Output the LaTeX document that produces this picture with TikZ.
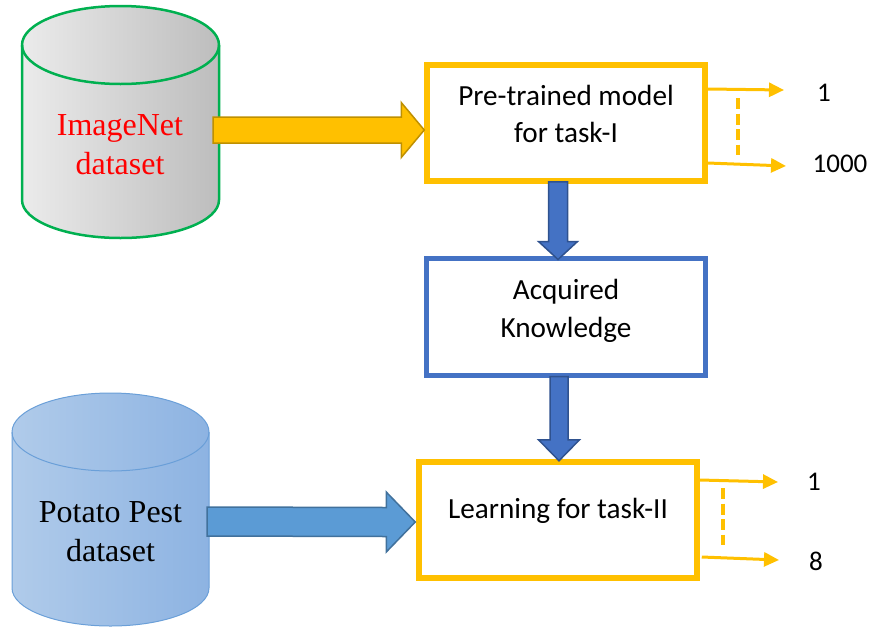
\documentclass[tikz,border=0pt]{standalone}
\usepackage{fontspec}
\setmainfont{Liberation Serif}
\newfontfamily\calibri{Carlito}
\usetikzlibrary{calc,arrows.meta}
\definecolor{gold}{HTML}{FFC000}
\definecolor{golddark}{HTML}{BF9000}
\definecolor{bluebox}{HTML}{4472C4}
\definecolor{bluedark}{HTML}{2F528F}
\definecolor{lightblue}{HTML}{5B9BD5}
\definecolor{lightbluedark}{HTML}{41719C}
\definecolor{greenline}{HTML}{00B050}
\definecolor{graylight}{HTML}{EBEBEB}
\definecolor{graydark}{HTML}{BDBDBD}
\definecolor{dbbluelight}{HTML}{B0CBEA}
\definecolor{dbbluedark}{HTML}{8DB3E2}
\definecolor{dbblueline}{HTML}{6A9FD8}
% horizontal block arrow: #1 start, #2 tip, #3 shaft half, #4 head half, #5 head length
\newcommand\hblockpath[5]{($(#1)+(0,-#3)$) -- ($(#2)+(-#5,-#3)$) -- ($(#2)+(-#5,-#4)$) -- (#2) -- ($(#2)+(-#5,#4)$) -- ($(#2)+(-#5,#3)$) -- ($(#1)+(0,#3)$) -- cycle}
% downward block arrow
\newcommand\vblockpath[5]{($(#1)+(-#3,0)$) -- ($(#2)+(-#3,-#5)$) -- ($(#2)+(-#4,-#5)$) -- (#2) -- ($(#2)+(#4,-#5)$) -- ($(#2)+(#3,-#5)$) -- ($(#1)+(#3,0)$) -- cycle}
\begin{document}
\begin{tikzpicture}[x=1pt,y=-1pt,
  goldbox/.style={draw=gold, line width=5.5pt, fill=white, minimum width=278pt, minimum height=116pt, inner sep=0pt},
  bluebox/.style={draw=bluebox, line width=5pt, fill=white, minimum width=279pt, minimum height=117pt, inner sep=0pt},
  boxtext/.style={font=\calibri\fontsize{29.2}{37}\selectfont, align=center, inner sep=0pt},
  dbtext/.style={font=\fontsize{32}{39.5}\selectfont, align=center, inner sep=0pt},
  numlabel/.style={font=\calibri\fontsize{27}{30}\selectfont, anchor=base, inner sep=0pt},
  outarr/.style={draw=gold, line width=3pt, -{Triangle[length=15pt,width=14pt]}},
  dashline/.style={draw=gold, line width=4pt, dash pattern=on 11pt off 4.5pt},
  goldarrow/.style={fill=gold, draw=golddark, line width=1.5pt, line join=miter},
  bluearrow/.style={fill=bluebox, draw=bluedark, line width=1.5pt, line join=miter},
  ltbluearrow/.style={fill=lightblue, draw=lightbluedark, line width=1.5pt, line join=miter}]
\useasboundingbox (0,0) rectangle (869,627);

% ImageNet cylinder
\shade[left color=graylight, right color=graydark]
  (22,45) -- (22,200) arc[start angle=180,end angle=0,x radius=98.5,y radius=38]
  -- (219,45) arc[start angle=0,end angle=-180,x radius=98.5,y radius=39] -- cycle;
\draw[greenline, line width=2.5pt]
  (22,45) -- (22,200) arc[start angle=180,end angle=0,x radius=98.5,y radius=38]
  -- (219,45) arc[start angle=0,end angle=-180,x radius=98.5,y radius=39] -- cycle;
\draw[greenline, line width=2.5pt] (22,45) arc[start angle=180,end angle=0,x radius=98.5,y radius=39];
\node[dbtext, text=red] (db1) at (120,144.5) {ImageNet\\dataset};

% Potato Pest cylinder
\shade[left color=dbbluelight, right color=dbbluedark]
  (12,432) -- (12,588) arc[start angle=180,end angle=0,x radius=98.5,y radius=38]
  -- (209,432) arc[start angle=0,end angle=-180,x radius=98.5,y radius=39] -- cycle;
\draw[dbblueline, line width=1pt]
  (12,432) -- (12,588) arc[start angle=180,end angle=0,x radius=98.5,y radius=38]
  -- (209,432) arc[start angle=0,end angle=-180,x radius=98.5,y radius=39] -- cycle;
\draw[dbblueline, line width=1pt] (12,432) arc[start angle=180,end angle=0,x radius=98.5,y radius=39];
\node[dbtext] (db2) at (110.5,531.5) {Potato Pest\\dataset};

% boxes
\node[goldbox] (m1) at (566,123) {};
\node[boxtext] (m1t) at (566,113.5) {Pre-trained model\\for task-I};
\node[bluebox] (kn) at (565.5,316.5) {};
\node[boxtext, font=\calibri\fontsize{29.2}{38}\selectfont] (knt) at (566,311) {Acquired\\Knowledge};
\node[goldbox] (m2) at (558,520) {};
\node[boxtext] (m2t) at (558,511) {Learning for task-II};

% block arrows
\coordinate (a1s) at (213,130);
\coordinate (a1t) at ($(m1.west)+(0,7)$);
\draw[goldarrow] \hblockpath{a1s}{a1t}{13}{27.5}{23};

\coordinate (a2s) at ($(m1.south)+(-8,-2)$);
\coordinate (a2t) at ($(kn.north)+(-7.5,4)$);
\draw[bluearrow] \vblockpath{a2s}{a2t}{9.5}{19.5}{18};

\coordinate (a3s) at ($(kn.south)+(-6.5,-1)$);
\coordinate (a3t) at ($(m2.north)+(1,1.5)$);
\draw[bluearrow] \vblockpath{a3s}{a3t}{9}{20.5}{21};

\coordinate (a4s) at (207,521.5);
\coordinate (a4t) at ($(m2.west)+(-1,2)$);
\draw[ltbluearrow] \hblockpath{a4s}{a4t}{14.5}{30}{29};

% outputs of task I
\coordinate (o1a) at (784,90);
\coordinate (o1b) at (786,166);
\draw[outarr] ($(m1.east)+(0,-34)$) -- (o1a);
\draw[outarr] ($(m1.east)+(0,40)$) -- (o1b);
\coordinate (d1a) at (738,98);
\coordinate (d1b) at (738,155);
\draw[dashline] (d1a) -- (d1b);
\node[numlabel] (n1a) at (824,101) {1};
\node[numlabel] (n1b) at (840,172) {1000};

% outputs of task II
\coordinate (o2a) at (778,482);
\coordinate (o2b) at (779,560);
\draw[outarr] ($(m2.east)+(0,-40)$) -- (o2a);
\draw[outarr] ($(m2.east)+(2,37)$) -- (o2b);
\coordinate (d2a) at (723,488);
\coordinate (d2b) at (723,545);
\draw[dashline] (d2a) -- (d2b);
\node[numlabel] (n2a) at (814,490) {1};
\node[numlabel] (n2b) at (816,570) {8};
\end{tikzpicture}
\end{document}
